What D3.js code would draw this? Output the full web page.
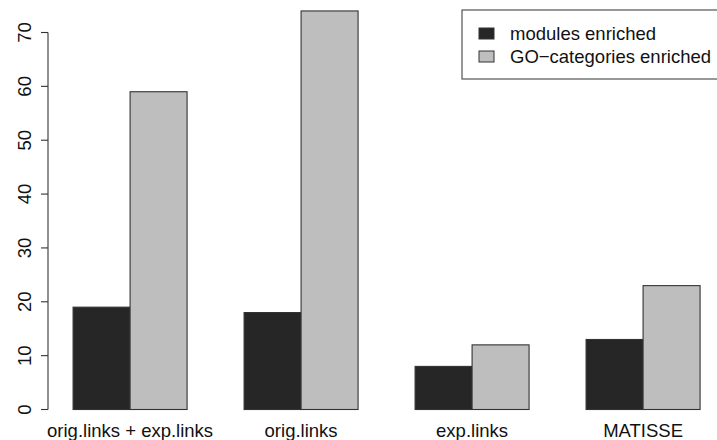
<!DOCTYPE html>
<html><head><meta charset="utf-8">
<script src="https://cdn.jsdelivr.net/npm/d3@7"></script>
<style>body{margin:0;background:#fff}svg{display:block}text{font-family:"Liberation Sans",Arial,sans-serif}</style>
</head><body>
<svg id="c" width="717" height="440"></svg>
<script>
const categories = ["orig.links + exp.links", "orig.links", "exp.links", "MATISSE"];
const seriesNames = ["modules enriched", "GO\u2212categories enriched"];
const modulesEnriched = [19, 18, 8, 13];
const goEnriched = [59, 74, 12, 23];
const yTicks = [0, 10, 20, 30, 40, 50, 60, 70];
const colors = ["#262626", "#bebebe"];

const svg = d3.select("#c");
const fs = 18.5;
// R-style barplot coordinates: each bar width 1, space 1 before each group
const x = d3.scaleLinear().domain([0.56, 12.44]).range([48, 48 + 11.88 * 57]);
const y = d3.scaleLinear().domain([0, 70]).range([409.5, 32.5]);

const series = [modulesEnriched, goEnriched];
const bars = [];
categories.forEach((c, g) => {
  series.forEach((s, j) => {
    bars.push({g, j, v: s[g], left: 1 + g * 3 + j});
  });
});
svg.selectAll("rect.bar").data(bars).join("rect")
  .attr("class", "bar")
  .attr("x", d => x(d.left))
  .attr("width", d => x(d.left + 1) - x(d.left))
  .attr("y", d => y(d.v))
  .attr("height", d => y(0) - y(d.v))
  .attr("fill", d => colors[d.j])
  .attr("stroke", "#333")
  .attr("stroke-width", 1.1);

// y axis
const ax = svg.append("g").attr("transform", "translate(48,0)");
ax.append("line").attr("x1", 0).attr("x2", 0).attr("y1", y(0)).attr("y2", y(70)).attr("stroke", "#333").attr("stroke-width", 1.1);
ax.selectAll("line.t").data(yTicks).join("line").attr("class", "t")
  .attr("x1", 0).attr("x2", -7).attr("y1", d => y(d)).attr("y2", d => y(d))
  .attr("stroke", "#333").attr("stroke-width", 1.1);
ax.selectAll("text").data(yTicks).join("text")
  .attr("transform", d => `translate(-17,${y(d)}) rotate(-90)`)
  .attr("text-anchor", "middle")
  .attr("font-size", fs)
  .attr("fill", "#111")
  .text(d => d);

// x labels
svg.selectAll("text.xl").data(categories).join("text").attr("class", "xl")
  .attr("x", (d, g) => x(1 + g * 3 + 1))
  .attr("y", 437)
  .attr("text-anchor", "middle")
  .attr("font-size", fs)
  .attr("fill", "#111")
  .text(d => d);

// legend
const lg = svg.append("g");
lg.append("rect").attr("x", 462).attr("y", 10).attr("width", 270).attr("height", 69)
  .attr("fill", "#fff").attr("stroke", "#444").attr("stroke-width", 1.1);
const rowY = [33.5, 56.5];
seriesNames.forEach((n, i) => {
  lg.append("rect").attr("x", 479).attr("y", rowY[i] - 5.5).attr("width", 15).attr("height", 11)
    .attr("fill", colors[i]).attr("stroke", "#333").attr("stroke-width", 1);
  lg.append("text").attr("x", 510).attr("y", rowY[i]).attr("dy", "0.35em")
    .attr("font-size", fs).attr("fill", "#111").text(n);
});
</script>
</body></html>
